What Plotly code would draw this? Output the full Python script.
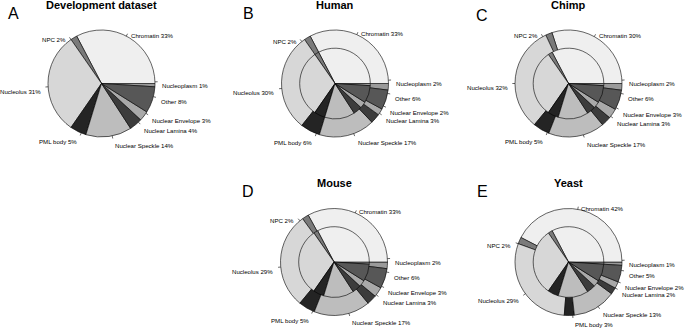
import math
import plotly.graph_objects as go

W, H = 685, 329

categories = ["Nucleoplasm", "Chromatin", "NPC", "Nucleolus", "PML body",
              "Nuclear Speckle", "Nuclear Lamina", "Nuclear Envelope", "Other"]
development = [1, 33, 2, 31, 5, 14, 4, 3, 8]
human = [2, 33, 2, 30, 6, 17, 3, 2, 6]
chimp = [2, 30, 2, 32, 5, 17, 3, 3, 6]
mouse = [2, 33, 2, 29, 5, 17, 3, 3, 6]
yeast = [1, 42, 2, 29, 3, 13, 2, 2, 5]

colors = ["#9a9a9a", "#efefef", "#7a7a7a", "#d7d7d7", "#242424",
          "#bdbdbd", "#3c3c3c", "#a9a9a9", "#575757"]

# (letter, title, values, has inner pie, center px, letter pos px, title y px)
panels = [
    ("A", "Development dataset", development, False, (101.5, 83.5), (13, 14), 5),
    ("B", "Human", human, True, (335, 83.5), (248, 14), 5),
    ("C", "Chimp", chimp, True, (568.5, 83.5), (482, 15), 5),
    ("D", "Mouse", mouse, True, (334, 262), (248, 191), 183),
    ("E", "Yeast", yeast, True, (568.5, 262), (482, 191), 183),
]
R = 53.5
INNER = 0.66
LABEL_FONT = dict(family="Liberation Sans, Arial, sans-serif", size=6.1, color="black")

fig = go.Figure()
shapes = []
annotations = []


def dom(cx, cy, r):
    return dict(x=[(cx - r) / W, (cx + r) / W], y=[1 - (cy + r) / H, 1 - (cy - r) / H])


def px(x, y):
    return x / W, 1 - y / H


for letter, title, vals, inner, (cx, cy), (lx, ly), ty in panels:
    fig.add_trace(go.Pie(
        labels=categories, values=vals, sort=False, direction="counterclockwise",
        rotation=90, domain=dom(cx, cy, R), textinfo="none", hoverinfo="label+percent",
        marker=dict(colors=colors, line=dict(color="black", width=0.6)),
        showlegend=False))
    if inner:
        fig.add_trace(go.Pie(
            labels=categories, values=development, sort=False, direction="counterclockwise",
            rotation=90, domain=dom(cx, cy, R * INNER), textinfo="none",
            hoverinfo="label+percent",
            marker=dict(colors=colors, line=dict(color="black", width=0.6)),
            showlegend=False))
    total = sum(vals)
    cum = 0
    for name, v in zip(categories, vals):
        mid = (cum + v / 2) / total * 2 * math.pi
        cum += v
        c, s = math.cos(mid), math.sin(mid)
        x0, y0 = px(cx + R * c, cy - R * s)
        x1, y1 = px(cx + 1.05 * R * c, cy - 1.05 * R * s)
        shapes.append(dict(type="line", xref="paper", yref="paper", x0=x0, y0=y0,
                           x1=x1, y1=y1, line=dict(color="black", width=0.6)))
        tx, tyy = px(cx + 1.1 * R * c, cy - 1.1 * R * s + 4)
        annotations.append(dict(x=tx, y=tyy, xref="paper", yref="paper",
                                text=f"{name} {round(v / total * 100)}%",
                                showarrow=False, font=LABEL_FONT,
                                xanchor="left" if c >= 0 else "right", yanchor="middle"))
    tx, tyy = px(cx, ty)
    annotations.append(dict(x=tx, y=tyy, xref="paper", yref="paper", text=f"<b>{title}</b>",
                            showarrow=False, xanchor="center", yanchor="middle",
                            font=dict(family="Liberation Sans, Arial, sans-serif", size=11,
                                      color="black")))
    tx, tyy = px(lx, ly)
    annotations.append(dict(x=tx, y=tyy, xref="paper", yref="paper", text=letter,
                            showarrow=False, xanchor="center", yanchor="middle",
                            font=dict(family="Liberation Sans, Arial, sans-serif", size=16,
                                      color="black")))

fig.update_layout(width=W, height=H, margin=dict(l=0, r=0, t=0, b=0),
                  paper_bgcolor="white", plot_bgcolor="white",
                  shapes=shapes, annotations=annotations)
fig.write_html("out.html", config={"displayModeBar": False},
               post_script="document.body.style.margin='0';document.body.style.overflow='hidden';")
